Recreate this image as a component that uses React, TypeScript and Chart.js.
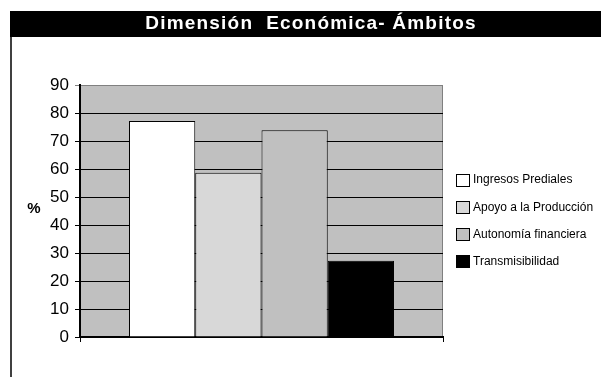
import React, { useEffect, useRef } from "react";
import { Chart, registerables } from "chart.js";

Chart.register(...registerables);

const title = "Dimensión  Económica- Ámbitos";
const categories = [""];
const seriesLabels = [
  "Ingresos Prediales",
  "Apoyo a la Producción",
  "Autonomía financiera",
  "Transmisibilidad",
];
const seriesValues = [77.1, 58.7, 73.8, 27.2];
const seriesColors = ["#ffffff", "#d8d8d8", "#c0c0c0", "#000000"];
const yMin = 0;
const yMax = 90;
const yStep = 10;
const yAxisLabel = "%";

const decorPlugin = {
  id: "decor",
  beforeDraw(chart: any) {
    const { ctx, chartArea } = chart;
    ctx.save();
    ctx.fillStyle = "#ffffff";
    ctx.fillRect(0, 0, chart.width, chart.height);
    // title bar
    ctx.fillStyle = "#000000";
    ctx.fillRect(10, 11, chart.width - 10, 26);
    // left border line
    ctx.fillStyle = "#404040";
    ctx.fillRect(10, 37, 2, chart.height - 37);
    // plot background
    ctx.fillStyle = "#c0c0c0";
    ctx.fillRect(chartArea.left, chartArea.top, chartArea.right - chartArea.left, chartArea.bottom - chartArea.top);
    ctx.strokeStyle = "#808080";
    ctx.lineWidth = 1;
    ctx.beginPath();
    ctx.moveTo(chartArea.right - 0.5, chartArea.top);
    ctx.lineTo(chartArea.right - 0.5, chartArea.bottom);
    ctx.stroke();
    ctx.restore();
  },
  afterDraw(chart: any) {
    const { ctx } = chart;
    ctx.save();
    // title
    ctx.fillStyle = "#ffffff";
    ctx.font = "bold 19px 'Liberation Sans', Arial, sans-serif";
    ctx.textAlign = "center";
    ctx.textBaseline = "middle";
    try {
      (ctx as any).letterSpacing = "1.2px";
    } catch (e) {}
    ctx.fillText(title, 311, 24);
    try {
      (ctx as any).letterSpacing = "0px";
    } catch (e) {}
    // y axis label
    ctx.fillStyle = "#000000";
    ctx.font = "bold 15px 'Liberation Sans', Arial, sans-serif";
    ctx.fillText(yAxisLabel, 34, 209);
    // legend
    const ds = chart.data.datasets;
    ctx.textAlign = "left";
    ctx.font = "12px 'Liberation Sans', Arial, sans-serif";
    for (let i = 0; i < ds.length; i++) {
      const cy = 179.5 + i * 27.3;
      ctx.fillStyle = ds[i].backgroundColor;
      ctx.fillRect(456.5, Math.round(cy - 6) + 0.5, 13, 12);
      ctx.strokeStyle = "#000000";
      ctx.lineWidth = 1;
      ctx.strokeRect(456.5, Math.round(cy - 6) + 0.5, 13, 12);
      ctx.fillStyle = "#000000";
      ctx.fillText(ds[i].label, 473, cy + 0.5);
    }
    ctx.restore();
  },
};

export default function App() {
  const ref = useRef<HTMLCanvasElement>(null);
  useEffect(() => {
    const chart = new Chart(ref.current as HTMLCanvasElement, {
      type: "bar",
      data: {
        labels: categories,
        datasets: seriesLabels.map((label, i) => ({
          label,
          data: [seriesValues[i]],
          backgroundColor: seriesColors[i],
          borderColor: "#000000",
          borderWidth: 1,
          categoryPercentage: 0.73,
          barPercentage: 1,
        })),
      },
      options: {
        responsive: false,
        animation: false,
        devicePixelRatio: 1,
        layout: { padding: { left: 0, top: 85, right: 158, bottom: 40 } },
        plugins: { legend: { display: false }, title: { display: false }, tooltip: { enabled: false } },
        scales: {
          x: {
            ticks: { display: false },
            grid: {
              display: true,
              drawOnChartArea: false,
              drawTicks: true,
              tickLength: 5,
              color: "#000000",
            },
            border: { display: true, color: "#000000", width: 2 },
            afterFit: (s: any) => {
              s.height = 0;
            },
          },
          y: {
            min: yMin,
            max: yMax,
            ticks: {
              stepSize: yStep,
              color: "#000000",
              padding: 6,
              font: { family: "'Liberation Sans', Arial, sans-serif", size: 17 },
            },
            grid: {
              color: (c: any) => (c.tick && c.tick.value === yMax ? "#808080" : "#000000"),
              lineWidth: 1,
              tickLength: 5,
              drawTicks: true,
            },
            border: { display: true, color: "#000000", width: 2 },
            afterFit: (s: any) => {
              s.width = 80;
            },
          },
        },
      },
      plugins: [decorPlugin],
    } as any);
    return () => chart.destroy();
  }, []);
  return (
    <div style={{ position: "fixed", left: 0, top: 0, width: 601, height: 377, background: "#fff" }}>
      <canvas ref={ref} width={601} height={377} style={{ width: 601, height: 377, display: "block" }} />
    </div>
  );
}
